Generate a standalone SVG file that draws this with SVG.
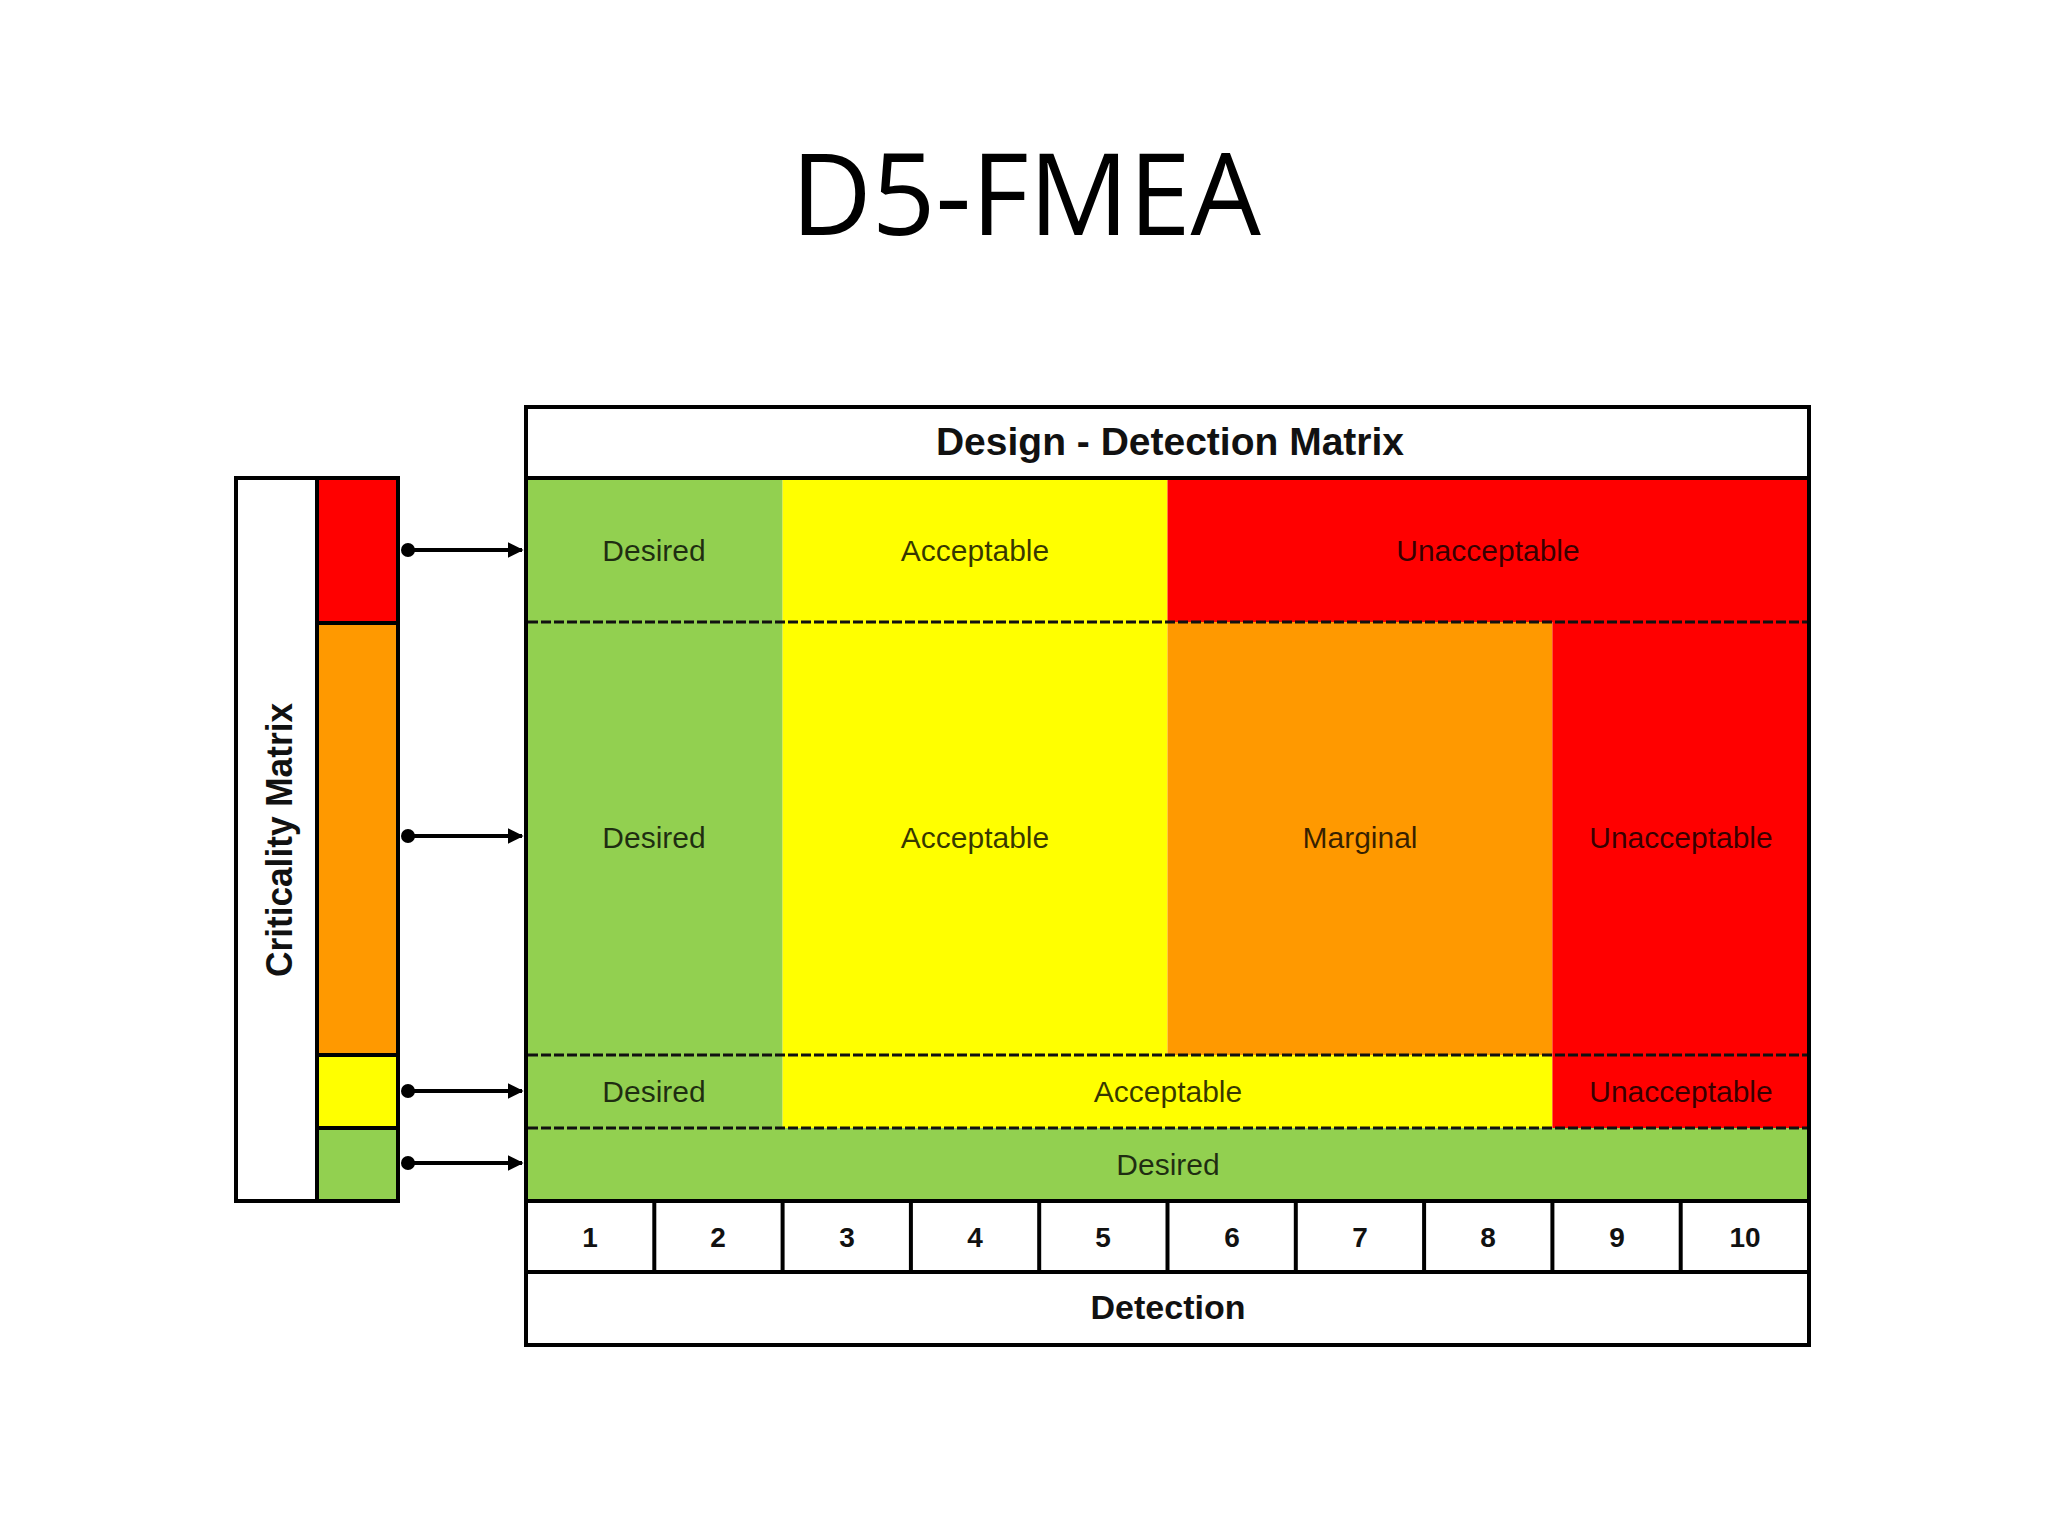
<svg xmlns="http://www.w3.org/2000/svg" width="2048" height="1536" viewBox="0 0 2048 1536">
<defs>
<style>
.lbl{font-family:"Liberation Sans",Arial,sans-serif;font-size:30px;fill:#000;fill-opacity:0.78;text-anchor:middle}
.num{font-family:"Liberation Sans",Arial,sans-serif;font-size:28px;font-weight:bold;fill:#111;text-anchor:middle}
.hdr{font-family:"Liberation Sans",Arial,sans-serif;font-weight:bold;fill:#111;text-anchor:middle}
.ln{stroke:#000;stroke-width:4;fill:none}
.dash{stroke:#111;stroke-width:3;stroke-dasharray:10 3;fill:none}
.g{fill:#92D050}.y{fill:#FFFF00}.o{fill:#FF9900}.r{fill:#FF0000}
.conn{stroke:#000;stroke-width:4;fill:none}
</style>
<marker id="ah" viewBox="0 0 10 10" refX="9" refY="5" markerWidth="4" markerHeight="4" markerUnits="strokeWidth" orient="auto">
<path d="M0,0 L10,5 L0,10 z" fill="#000"/>
</marker>
</defs>
<rect width="2048" height="1536" fill="#fff"/>
<text x="1026" y="235" font-family="'Open Sans',Lato,sans-serif" font-size="113" fill="#000" text-anchor="middle" textLength="470" lengthAdjust="spacingAndGlyphs">D5-FMEA</text>

<g id="criticality-matrix">
<rect x="236" y="478" width="162" height="723" fill="#fff"/>
<rect class="r" x="317" y="478" width="81" height="145"/>
<rect class="o" x="317" y="623" width="81" height="432"/>
<rect class="y" x="317" y="1055" width="81" height="73"/>
<rect class="g" x="317" y="1128" width="81" height="73"/>
<rect class="ln" x="236" y="478" width="162" height="723"/>
<line class="ln" x1="317" y1="478" x2="317" y2="1201"/>
<line class="ln" x1="317" y1="623" x2="400" y2="623"/>
<line class="ln" x1="317" y1="1055" x2="400" y2="1055"/>
<line class="ln" x1="317" y1="1128" x2="400" y2="1128"/>
<text class="hdr" font-size="36" transform="translate(292,840) rotate(-90)" textLength="274" lengthAdjust="spacingAndGlyphs">Criticality Matrix</text>
</g>

<g id="detection-matrix">
<rect x="526" y="407" width="1283" height="938" fill="#fff"/>
<g id="row1">
<rect class="g" x="526" y="478" width="256.6" height="144"/>
<rect class="y" x="782.6" y="478" width="384.9" height="144"/>
<rect class="r" x="1167.5" y="478" width="641.5" height="144"/>
<text class="lbl" x="654" y="561">Desired</text>
<text class="lbl" x="975" y="561">Acceptable</text>
<text class="lbl" x="1488" y="561">Unacceptable</text>
</g>
<g id="row2">
<rect class="g" x="526" y="622" width="256.6" height="433"/>
<rect class="y" x="782.6" y="622" width="384.9" height="433"/>
<rect class="o" x="1167.5" y="622" width="384.9" height="433"/>
<rect class="r" x="1552.4" y="622" width="256.6" height="433"/>
<text class="lbl" x="654" y="848">Desired</text>
<text class="lbl" x="975" y="848">Acceptable</text>
<text class="lbl" x="1360" y="848">Marginal</text>
<text class="lbl" x="1681" y="848">Unacceptable</text>
</g>
<g id="row3">
<rect class="g" x="526" y="1055" width="256.6" height="73"/>
<rect class="y" x="782.6" y="1055" width="769.8" height="73"/>
<rect class="r" x="1552.4" y="1055" width="256.6" height="73"/>
<text class="lbl" x="654" y="1102">Desired</text>
<text class="lbl" x="1168" y="1102">Acceptable</text>
<text class="lbl" x="1681" y="1102">Unacceptable</text>
</g>
<g id="row4">
<rect class="g" x="526" y="1128" width="1283" height="73"/>
<text class="lbl" x="1168" y="1175">Desired</text>
</g>
<line class="dash" x1="528" y1="622" x2="1807" y2="622"/>
<line class="dash" x1="528" y1="1055" x2="1807" y2="1055"/>
<line class="dash" x1="528" y1="1128" x2="1807" y2="1128"/>
<line class="ln" x1="526" y1="478" x2="1809" y2="478"/>
<line class="ln" x1="526" y1="1201" x2="1809" y2="1201"/>
<line class="ln" x1="526" y1="1272" x2="1809" y2="1272"/>
<g id="scale">
<line class="ln" x1="654.3" y1="1201" x2="654.3" y2="1272"/>
<line class="ln" x1="782.6" y1="1201" x2="782.6" y2="1272"/>
<line class="ln" x1="910.9" y1="1201" x2="910.9" y2="1272"/>
<line class="ln" x1="1039.2" y1="1201" x2="1039.2" y2="1272"/>
<line class="ln" x1="1167.5" y1="1201" x2="1167.5" y2="1272"/>
<line class="ln" x1="1295.8" y1="1201" x2="1295.8" y2="1272"/>
<line class="ln" x1="1424.1" y1="1201" x2="1424.1" y2="1272"/>
<line class="ln" x1="1552.4" y1="1201" x2="1552.4" y2="1272"/>
<line class="ln" x1="1680.7" y1="1201" x2="1680.7" y2="1272"/>
<text class="num" x="590" y="1247">1</text>
<text class="num" x="718" y="1247">2</text>
<text class="num" x="847" y="1247">3</text>
<text class="num" x="975" y="1247">4</text>
<text class="num" x="1103" y="1247">5</text>
<text class="num" x="1232" y="1247">6</text>
<text class="num" x="1360" y="1247">7</text>
<text class="num" x="1488" y="1247">8</text>
<text class="num" x="1617" y="1247">9</text>
<text class="num" x="1745" y="1247">10</text>
</g>
<rect class="ln" x="526" y="407" width="1283" height="938"/>
<text class="hdr" font-size="39" x="1170" y="455">Design - Detection Matrix</text>
<text class="hdr" font-size="34" x="1168" y="1319">Detection</text>
</g>

<g id="connectors">
<circle cx="408" cy="550" r="7" fill="#000"/>
<line class="conn" x1="408" y1="550" x2="522" y2="550" marker-end="url(#ah)"/>
<circle cx="408" cy="836" r="7" fill="#000"/>
<line class="conn" x1="408" y1="836" x2="522" y2="836" marker-end="url(#ah)"/>
<circle cx="408" cy="1091" r="7" fill="#000"/>
<line class="conn" x1="408" y1="1091" x2="522" y2="1091" marker-end="url(#ah)"/>
<circle cx="408" cy="1163" r="7" fill="#000"/>
<line class="conn" x1="408" y1="1163" x2="522" y2="1163" marker-end="url(#ah)"/>
</g>
</svg>
